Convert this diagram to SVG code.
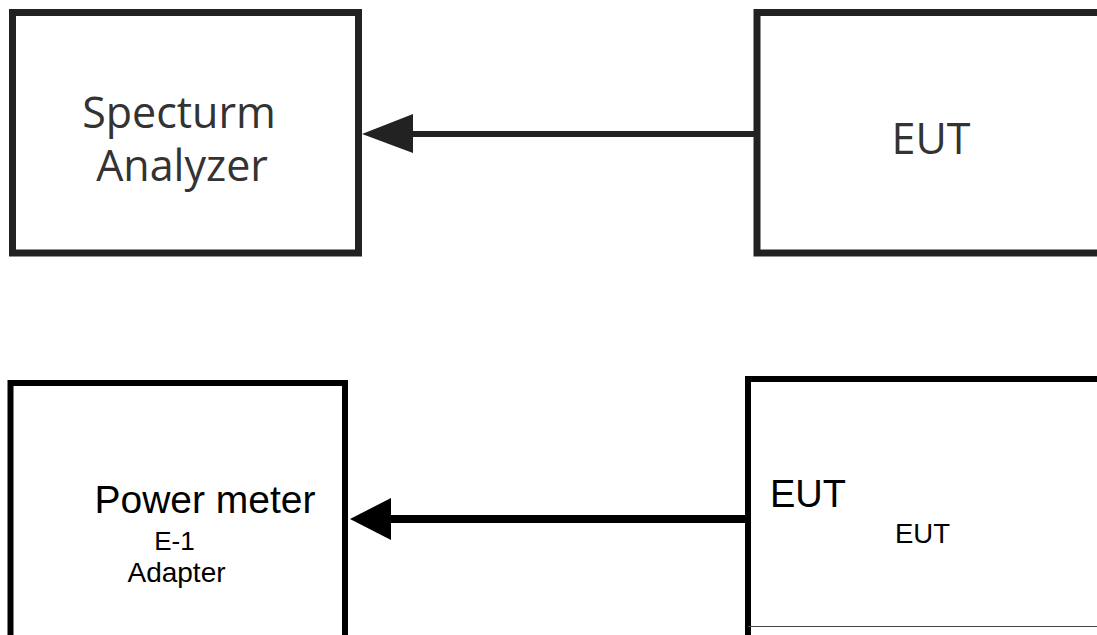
<svg xmlns="http://www.w3.org/2000/svg" width="1097" height="635" viewBox="0 0 1097 635">
  <style>
    .boxA { fill: #ffffff; stroke: #222222; stroke-width: 7; }
    .boxB { fill: #ffffff; stroke: #000000; stroke-width: 6; }
    .lblA { font-family: "Open Sans", "Noto Sans", sans-serif; fill: #333333; font-size: 43px; text-anchor: middle; }
    .lblB { font-family: "Liberation Sans", Arial, sans-serif; fill: #000000; }
    .lineA { stroke: #222222; stroke-width: 6; fill: none; }
    .lineB { stroke: #000000; stroke-width: 8; fill: none; }
  </style>
  <rect x="0" y="0" width="1097" height="635" fill="#ffffff"/>

  <g id="connectors">
    <line class="lineA" x1="410" y1="134" x2="757" y2="134"/>
    <polygon points="362,134 413,114 413,153" fill="#222222"/>
    <line class="lineB" x1="388" y1="519" x2="748" y2="519"/>
    <polygon points="350,519 391,498 391,540" fill="#000000"/>
  </g>

  <g id="spectrum-analyzer">
    <rect class="boxA" x="12.5" y="12.5" width="346" height="240.5"/>
    <text class="lblA" x="179" y="128">Specturm</text>
    <text class="lblA" x="182" y="181">Analyzer</text>
  </g>

  <g id="eut-top">
    <rect class="boxA" x="757" y="12.5" width="360" height="240.5"/>
    <text class="lblA" x="931" y="154">EUT</text>
  </g>

  <g id="power-meter">
    <path class="boxB" d="M10.5,640 V383 H345 V640"/>
    <text class="lblB" x="205" y="513" font-size="39" text-anchor="middle">Power meter</text>
    <text class="lblB" x="174.5" y="550" font-size="26" text-anchor="middle">E-1</text>
    <text class="lblB" x="176.5" y="582" font-size="28" text-anchor="middle">Adapter</text>
  </g>

  <g id="eut-bottom">
    <path class="boxB" d="M748,640 V379 H1100"/>
    <line x1="748" y1="626.5" x2="1097" y2="626.5" stroke="#444444" stroke-width="1"/>
    <text class="lblB" x="770" y="507" font-size="38">EUT</text>
    <text class="lblB" x="895" y="543" font-size="27.5">EUT</text>
  </g>
</svg>
